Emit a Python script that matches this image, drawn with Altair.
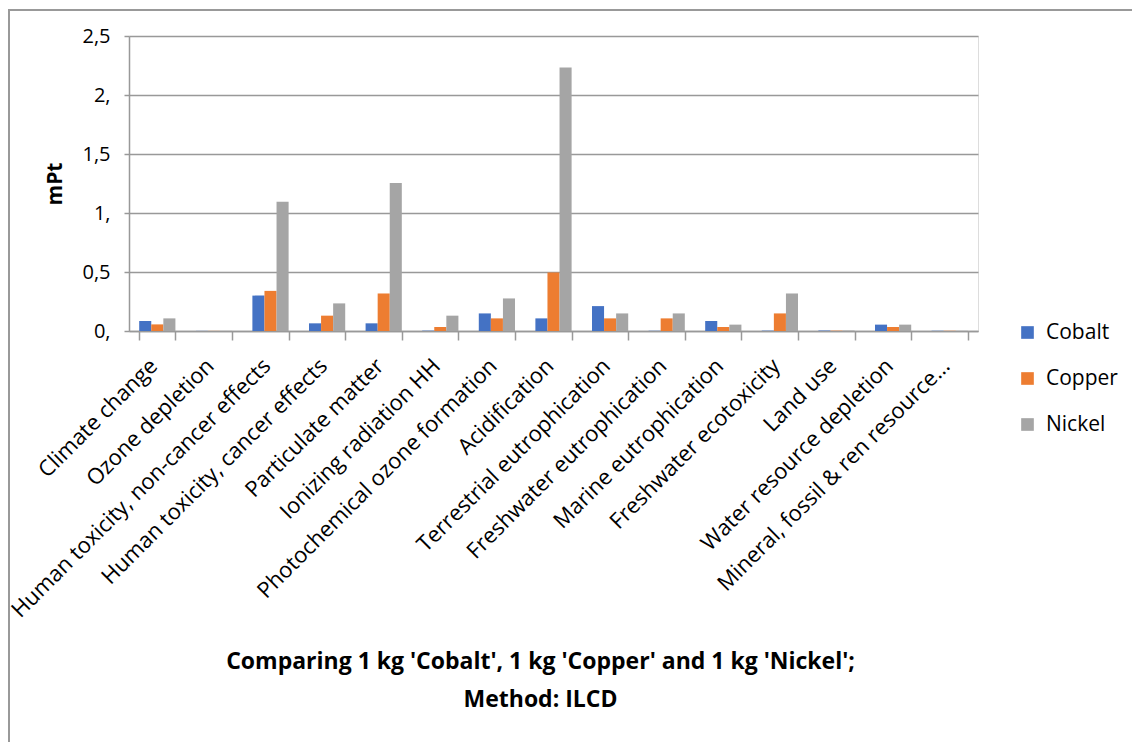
import altair as alt
import pandas as pd

categories = [
    "Climate change",
    "Ozone depletion",
    "Human toxicity, non-cancer effects",
    "Human toxicity, cancer effects",
    "Particulate matter",
    "Ionizing radiation HH",
    "Photochemical ozone formation",
    "Acidification",
    "Terrestrial eutrophication",
    "Freshwater eutrophication",
    "Marine eutrophication",
    "Freshwater ecotoxicity",
    "Land use",
    "Water resource depletion",
    "Mineral, fossil & ren resource...",
]
cobalt = [0.085, 0.001, 0.30, 0.065, 0.065, 0.003, 0.149, 0.107, 0.211, 0.002, 0.085, 0.003, 0.004, 0.054, 0.002]
copper = [0.056, 0.001, 0.34, 0.13, 0.318, 0.034, 0.107, 0.496, 0.107, 0.107, 0.034, 0.149, 0.003, 0.034, 0.002]
nickel = [0.107, 0.001, 1.096, 0.234, 1.254, 0.13, 0.276, 2.234, 0.149, 0.149, 0.054, 0.318, 0.004, 0.054, 0.002]
series = ["Cobalt", "Copper", "Nickel"]
colors = ["#4472C4", "#ED7D31", "#A5A5A5"]
y_ticks = [0, 0.5, 1, 1.5, 2, 2.5]

rows = []
for name, vals in zip(series, [cobalt, copper, nickel]):
    for c, v in zip(categories, vals):
        rows.append({"category": c, "series": name, "value": v})
df = pd.DataFrame(rows)

FONT = "Open Sans"
W, H = 849, 295
LEFT, TOP = 129, 36

bars = alt.Chart(df).mark_bar().encode(
    x=alt.X(
        "category:N",
        sort=categories,
        scale=alt.Scale(paddingInner=0.36, paddingOuter=0.18),
        axis=alt.Axis(
            title=None,
            labelAngle=-45,
            labelAlign="right",
            labelBaseline="middle",
            labelFontSize=22,
            labelColor="#000000",
            labelFont=FONT,
            labelPadding=22,
            labelOffset=-4,
            labelLimit=600,
            labelOverlap=False,
            tickBand="extent",
            tickSize=9,
            tickColor="#999999",
            tickWidth=1.5,
            domainColor="#999999",
            domainWidth=1.5,
            grid=False,
        ),
    ),
    xOffset=alt.XOffset("series:N", sort=series, scale=alt.Scale(paddingInner=0, paddingOuter=0)),
    y=alt.Y(
        "value:Q",
        scale=alt.Scale(domain=[0, 2.5], nice=False),
        axis=alt.Axis(
            title="mPt",
            titleFont=FONT,
            titleFontSize=21,
            titleFontWeight="bold",
            titleColor="#000000",
            titleX=-74,
            titleY=H / 2,
            titleAngle=-90,
            titleAlign="center",
            titleBaseline="middle",
            values=y_ticks,
            labelExpr="datum.value % 1 == 0 ? format(datum.value, 'd') + ',' : replace(format(datum.value, '.1f'), '.', ',')",
            labelFont=FONT,
            labelFontSize=20,
            labelColor="#000000",
            labelPadding=14,
            tickSize=5,
            tickColor="#999999",
            tickWidth=1.5,
            domainColor="#999999",
            domainWidth=1.5,
            gridColor="#999999",
            gridWidth=1.5,
        ),
    ),
    color=alt.Color(
        "series:N",
        sort=series,
        scale=alt.Scale(domain=series, range=colors),
        legend=alt.Legend(
            title=None,
            orient="none",
            legendX=888,
            legendY=286,
            symbolType="square",
            symbolSize=160,
            symbolStrokeWidth=0,
            labelFont=FONT,
            labelFontSize=21,
            labelColor="#000000",
            rowPadding=24,
            labelOffset=8,
        ),
    ),
)

border = alt.Chart(pd.DataFrame({"a": [0]})).mark_rect(
    filled=False, stroke="#999999", strokeWidth=2
).encode(
    x=alt.value(9 - LEFT),
    x2=alt.value(1132 - LEFT + 20),
    y=alt.value(10 - TOP),
    y2=alt.value(742 - TOP + 20),
)

chart = alt.layer(border, bars).properties(
    width=W,
    height=H,
    title=alt.Title(
        text=["Comparing 1 kg 'Cobalt', 1 kg 'Copper' and 1 kg 'Nickel';", "Method: ILCD"],
        orient="top",
        anchor="middle",
        font=FONT,
        fontSize=23,
        fontWeight="bold",
        color="#000000",
        lineHeight=38,
        offset=0,
        dx=-13,
        dy=703,
    ),
    autosize=alt.AutoSizeParams(type="none"),
    padding={"left": LEFT, "top": TOP, "right": 1132 - LEFT - W, "bottom": 742 - TOP - H},
).configure_view(stroke=None).configure(background="white")

chart.save("out.html", embed_options={"renderer": "svg", "actions": False})
